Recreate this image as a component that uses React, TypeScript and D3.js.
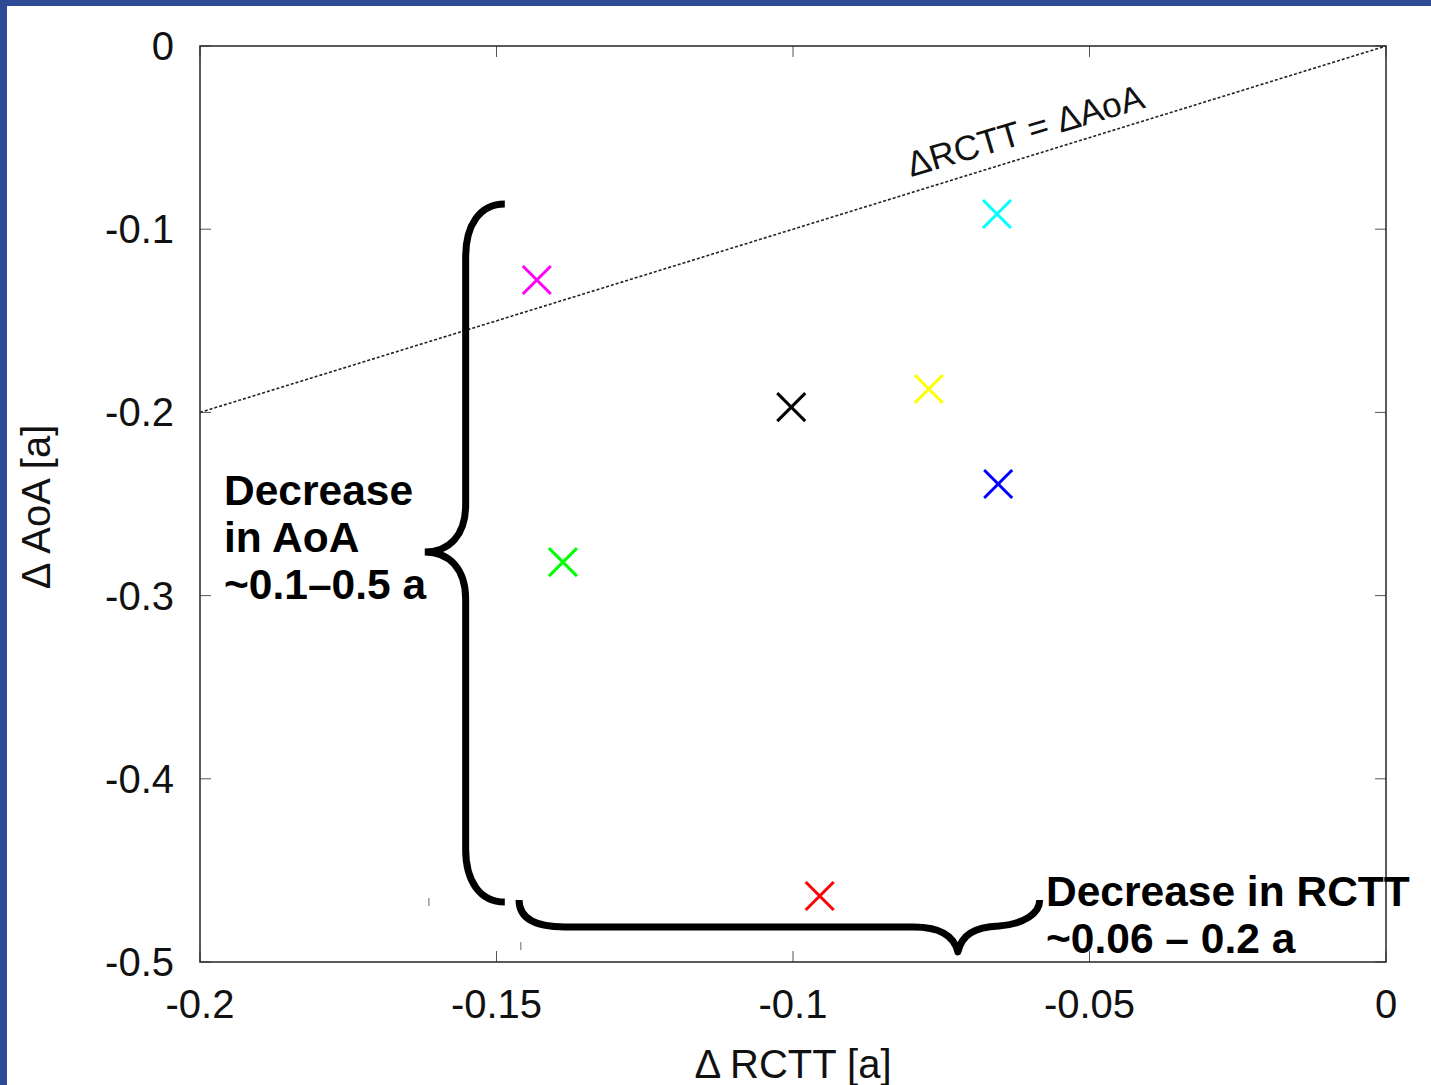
import React from "react";
import * as d3 from "d3";

// ---- data ----
const seriesNames = ["magenta", "cyan", "yellow", "black", "blue", "green", "red"];
const seriesColors = ["#ff00ff", "#00ffff", "#ffff00", "#000000", "#0000ff", "#00ff00", "#ff0000"];
const dRCTT = [-0.1432, -0.0656, -0.0771, -0.1003, -0.0654, -0.1388, -0.0955];
const dAoA = [-0.1277, -0.0917, -0.1872, -0.1971, -0.2391, -0.2817, -0.464];

const xTicks = [-0.2, -0.15, -0.1, -0.05, 0];
const yTicks = [0, -0.1, -0.2, -0.3, -0.4, -0.5];
const xTickLabels = ["-0.2", "-0.15", "-0.1", "-0.05", "0"];
const yTickLabels = ["0", "-0.1", "-0.2", "-0.3", "-0.4", "-0.5"];

const identityLine = [[-0.2, -0.2], [0, 0]];
const identityLabel = "ΔRCTT = ΔAoA";
const xTitle = "Δ RCTT [a]";
const yTitle = "Δ AoA [a]";
const aoaNote = ["Decrease", "in AoA", "~0.1–0.5 a"];
const rcttNote = ["Decrease in RCTT", "~0.06 – 0.2 a"];

// brace annotations (data units)
const aoaBrace = { xEnd: -0.1486, xSpine: -0.1552, xTip: -0.1621, yTop: -0.0862, yBot: -0.4673, yTip: -0.2762 };
const rcttBrace = { xLeft: -0.1462, xRight: -0.0584, xTip: -0.0722, yEnd: -0.4662, ySpine: -0.4809, yTip: -0.4945 };
const strayTicks = [[-0.1614, -0.4673], [-0.1459, -0.4913]];

const W = 1431, H = 1085;
const FONT = "'Liberation Sans', Arial, Helvetica, sans-serif";

export default function App() {
  const x = d3.scaleLinear().domain([-0.2, 0]).range([200, 1386]);
  const y = d3.scaleLinear().domain([-0.5, 0]).range([962, 46]);
  const [x0, x1] = x.range();
  const [y0, y1] = y.range();
  const tickLen = 11;

  const line = d3.line<number[]>().x((d) => x(d[0])).y((d) => y(d[1]));

  // left (vertical) brace
  const b = aoaBrace;
  const xe = x(b.xEnd), xs = x(b.xSpine), xt = x(b.xTip);
  const ya = y(b.yTop), yb = y(b.yBot), ym = y(b.yTip);
  const r = 53, r2 = 47;
  const leftBrace = `M${xe},${ya} C${xe - 0.64 * (xe - xs)},${ya} ${xs},${ya + r * 0.4} ${xs},${ya + r}
    L${xs},${ym - r2} C${xs},${ym - r2 * 0.36} ${xs - 0.4 * (xs - xt)},${ym} ${xt},${ym}
    C${xs - 0.4 * (xs - xt)},${ym} ${xs},${ym + r2 * 0.36} ${xs},${ym + r2}
    L${xs},${yb - r} C${xs},${yb - r * 0.4} ${xe - 0.64 * (xe - xs)},${yb} ${xe},${yb}`;

  // bottom (horizontal) brace
  const c = rcttBrace;
  const xl = x(c.xLeft), xr = x(c.xRight), xtp = x(c.xTip);
  const ye = y(c.yEnd), ysp = y(c.ySpine), ytp = y(c.yTip);
  const bottomBrace = `M${xl},${ye} C${xl},${ye + 18} ${xl + 16},${ysp} ${xl + 46},${ysp}
    L${xtp - 44},${ysp} C${xtp - 19},${ysp} ${xtp - 4},${ysp + 8} ${xtp},${ytp}
    C${xtp + 4},${ysp + 8} ${xtp + 16},${ysp} ${xtp + 41},${ysp - 1}
    C${xr - 15},${ysp - 3} ${xr},${ye + 13} ${xr},${ye}`;

  const ms = 14;
  const lineAngle = -16.5;

  return (
    <svg width={W} height={H} style={{ position: "absolute", left: 0, top: 0 }} fontFamily={FONT}>
      <rect x={0} y={0} width={W} height={H} fill="#2f4a94" />
      <rect x={7} y={6} width={W - 7} height={H - 6} fill="#ffffff" />

      {/* ticks */}
      {xTicks.map((t, i) => (
        <g key={"xt" + i} stroke="#555" strokeWidth={1}>
          <line x1={x(t)} x2={x(t)} y1={y0} y2={y0 - tickLen} />
          <line x1={x(t)} x2={x(t)} y1={y1} y2={y1 + tickLen} />
        </g>
      ))}
      {yTicks.map((t, i) => (
        <g key={"yt" + i} stroke="#555" strokeWidth={1}>
          <line x1={x0} x2={x0 + tickLen} y1={y(t)} y2={y(t)} />
          <line x1={x1} x2={x1 - tickLen} y1={y(t)} y2={y(t)} />
        </g>
      ))}
      {strayTicks.map((p, i) => (
        <line key={"st" + i} x1={x(p[0])} x2={x(p[0])} y1={y(p[1]) - 4} y2={y(p[1]) + 4} stroke="#666" strokeWidth={1} />
      ))}

      {/* tick labels */}
      {xTicks.map((t, i) => (
        <text key={"xl" + i} x={x(t)} y={y0 + 56} fontSize={40} textAnchor="middle" fill="#111">
          {xTickLabels[i]}
        </text>
      ))}
      {yTicks.map((t, i) => (
        <text key={"yl" + i} x={174} y={y(t) + 14} fontSize={40} textAnchor="end" fill="#111">
          {yTickLabels[i]}
        </text>
      ))}

      {/* identity line */}
      <path d={line(identityLine) || ""} fill="none" stroke="#222" strokeWidth={1.6} strokeDasharray="3,2" />
      <text transform={`translate(911,177) rotate(${lineAngle})`} fontSize={35} fill="#111">
        {identityLabel}
      </text>

      {/* frame */}
      <rect x={x0} y={y1} width={x1 - x0} height={y0 - y1} fill="none" stroke="#333" strokeWidth={1.6} />

      {/* markers */}
      {seriesNames.map((n, i) => {
        const cx = x(dRCTT[i]), cy = y(dAoA[i]);
        return (
          <g key={n} stroke={seriesColors[i]} strokeWidth={3}>
            <line x1={cx - ms} y1={cy - ms} x2={cx + ms} y2={cy + ms} />
            <line x1={cx - ms} y1={cy + ms} x2={cx + ms} y2={cy - ms} />
          </g>
        );
      })}

      {/* braces */}
      <path d={leftBrace} fill="none" stroke="#000" strokeWidth={7} />
      <path d={bottomBrace} fill="none" stroke="#000" strokeWidth={7} strokeLinejoin="round" />

      {/* annotations */}
      {aoaNote.map((s, i) => (
        <text key={"an" + i} x={224} y={505 + i * 47} fontSize={42.5} fontWeight="bold" fill="#000">
          {s}
        </text>
      ))}
      {rcttNote.map((s, i) => (
        <text key={"rn" + i} x={1046} y={906 + i * 47} fontSize={42.5} fontWeight="bold" fill="#000">
          {s}
        </text>
      ))}

      {/* axis titles */}
      <text x={(x0 + x1) / 2} y={1078} fontSize={40} textAnchor="middle" fill="#111">
        {xTitle}
      </text>
      <text transform={`translate(50,${(y0 + y1) / 2 + 3}) rotate(-90)`} fontSize={40} textAnchor="middle" fill="#111">
        {yTitle}
      </text>
    </svg>
  );
}
